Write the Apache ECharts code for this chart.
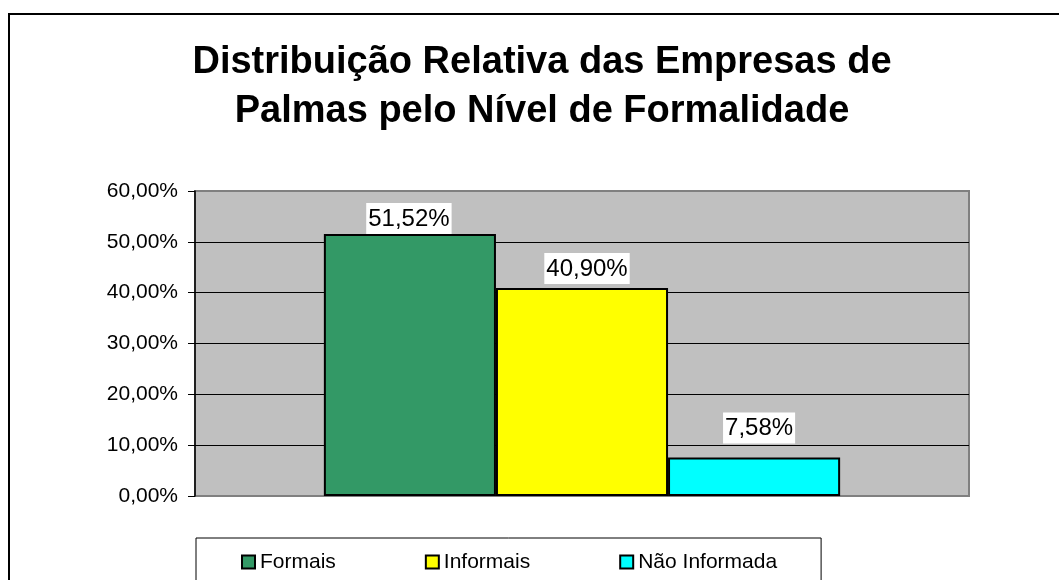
<!DOCTYPE html>
<html>
<head>
<meta charset="utf-8">
<script src="https://cdn.jsdelivr.net/npm/echarts@6/dist/echarts.min.js"></script>
<style>
html, body { margin: 0; padding: 0; background: #fff; }
#chart { width: 1059px; height: 580px; }
</style>
</head>
<body>
<div id="chart"></div>
<script>
// dados
const categorias = ["Formais", "Informais", "Não Informada"];
const valores = [51.52, 40.90, 7.58];
const cores = ["#339966", "#FFFF00", "#00FFFF"];
const eixoY = { min: 0, max: 60, intervalo: 10 };

// posição dos rótulos (Excel não os põe todos à mesma distância)
const distRotulo = [0, 4, 14];
const offsetRotulo = [[-1, 0], [5, 0], [5, 0]];

const fonte = "'Liberation Sans', Arial, sans-serif";

function pct(v) {
    return Number(v).toFixed(2).replace(".", ",") + "%";
}

const chart = echarts.init(document.getElementById("chart"));

const option = {
    animation: false,
    title: {
        text: "Distribuição Relativa das Empresas de\nPalmas pelo Nível de Formalidade",
        left: 542,
        top: 38,
        padding: 0,
        textAlign: "center",
        textStyle: {
            fontFamily: fonte,
            fontSize: 38,
            fontWeight: "bold",
            color: "#000",
            lineHeight: 49,
        },
    },
    graphic: [
        {
            // moldura do gráfico
            type: "rect",
            shape: { x: 9, y: 14, width: 1200, height: 1000 },
            style: { fill: "none", stroke: "#000", lineWidth: 2 },
            silent: true,
        },
    ],
    grid: {
        left: 195,
        right: 90,
        top: 191,
        bottom: 84,
        show: true,
        backgroundColor: "#C0C0C0",
        borderColor: "#808080",
        borderWidth: 2,
    },
    legend: {
        data: categorias,
        left: 196,
        top: 538,
        padding: [12, 44, 12, 45],
        itemGap: 89,
        itemWidth: 13,
        itemHeight: 13,
        icon: "rect",
        borderColor: "#000",
        borderWidth: 1,
        backgroundColor: "#fff",
        itemStyle: { borderColor: "#000", borderWidth: 2 },
        textStyle: {
            fontFamily: fonte,
            fontSize: 21,
            color: "#000",
            lineHeight: 24,
        },
    },
    xAxis: {
        type: "category",
        data: [""],
        axisLine: { show: false },
        axisTick: { show: false },
        axisLabel: { show: false },
    },
    yAxis: {
        type: "value",
        min: eixoY.min,
        max: eixoY.max,
        interval: eixoY.intervalo,
        axisLine: { show: true, lineStyle: { color: "#000", width: 1.5 } },
        axisTick: { show: true, length: 7, lineStyle: { color: "#000" } },
        axisLabel: {
            margin: 17,
            fontFamily: fonte,
            fontSize: 21,
            color: "#000",
            formatter: pct,
        },
        splitLine: {
            show: true,
            showMinLine: false,
            showMaxLine: false,
            lineStyle: { color: "#000", width: 1 },
        },
    },
    series: categorias.map((nome, i) => ({
        name: nome,
        type: "bar",
        data: [valores[i]],
        barGap: "0%",
        barCategoryGap: "33.3%",
        itemStyle: {
            color: cores[i],
            borderColor: "#000",
            borderWidth: 2,
        },
        label: {
            show: true,
            position: "top",
            distance: distRotulo[i],
            offset: offsetRotulo[i],
            formatter: (p) => pct(p.value),
            fontFamily: fonte,
            fontSize: 24,
            color: "#000",
            backgroundColor: "#fff",
            padding: [2, 2, 1, 2],
            lineHeight: 28,
        },
    })),
};

chart.setOption(option);
</script>
</body>
</html>
